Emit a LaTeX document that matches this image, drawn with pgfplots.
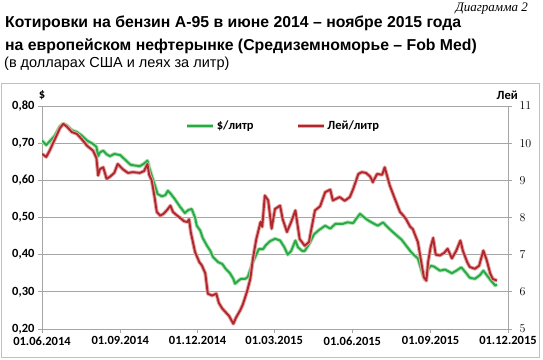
\documentclass[border=0pt]{standalone}
\usepackage{pgfplots}
\pgfplotsset{compat=1.18}
\usepackage{fontspec}
\setmainfont{Liberation Sans}
\newfontfamily\carlito{Carlito}
\newfontfamily\timesf{Liberation Serif}
\definecolor{gcore}{RGB}{40,170,70}
\definecolor{ghalo}{RGB}{170,225,175}
\definecolor{rcore}{RGB}{175,40,45}
\definecolor{rhalo}{RGB}{232,165,165}
\definecolor{gridc}{RGB}{165,165,165}
\tikzset{tfont/.style={font=\carlito\bfseries\fontsize{12.5}{14}\selectfont}}
\pgfplotsset{
  gstyle/.style={draw=gcore, line width=1.9pt, line join=round, no markers, preaction={draw=ghalo, line width=3.8pt}},
  rstyle/.style={draw=rcore, line width=1.9pt, line join=round, no markers, preaction={draw=rhalo, line width=3.8pt}},
}
\begin{document}
\begin{tikzpicture}[x=1pt,y=1pt]
\path[use as bounding box] (0pt,0pt) rectangle (543pt,359pt);
\draw[gridc!70, line width=0.8pt] (1.5pt,2pt) rectangle (539pt,276pt);
\node[anchor=east, inner sep=0pt, font=\timesf\itshape\fontsize{13}{15}\selectfont] at (528pt,350pt) {Диаграмма 2};
\node[anchor=west, inner sep=0pt, font=\bfseries\fontsize{15.8}{18}\selectfont] at (5pt,336pt) {Котировки на бензин А-95 в июне 2014 – ноябре 2015 года};
\node[anchor=west, inner sep=0pt, font=\bfseries\fontsize{15.8}{18}\selectfont] at (5pt,313pt) {на европейском нефтерынке (Средиземноморье – Fob Med)};
\node[anchor=west, inner sep=0pt, font=\fontsize{14.5}{16}\selectfont] at (4pt,295pt) {(в долларах США и леях за литр)};
\node[tfont] at (42pt,264pt) {\$};
\node[tfont, anchor=east, inner sep=0pt] at (518pt,264pt) {Лей};
\begin{axis}[
  at={(42pt,30pt)}, anchor=south west, scale only axis,
  width=466pt, height=223pt,
  xmin=0, xmax=548, ymin=0.2, ymax=0.8,
  axis x line*=bottom, axis y line*=left,
  axis line style={gridc, line width=0.8pt},
  tick align=outside, major tick length=4pt,
  tick style={gridc, line width=0.8pt},
  ymajorgrids, grid style={gridc, line width=0.8pt},
  xtick={0,92,183,273,365,457,548},
  xticklabels={01.06.2014,01.09.2014,01.12.2014,01.03.2015,01.06.2015,01.09.2015,01.12.2015},
  ytick={0.2,0.3,0.4,0.5,0.6,0.7,0.8},
  yticklabels={{0,20},{0,30},{0,40},{0,50},{0,60},{0,70},{0,80}},
  ticklabel style={tfont},
]
\addplot[gstyle] coordinates {
(0,0.707)(5,0.695)(9,0.705)(15,0.72)(21,0.745)(25,0.752)(29,0.748)(35,0.735)(41,0.73)(47,0.72)(53,0.707)(60,0.698)(64,0.69)(66,0.665)(68,0.675)(72,0.68)(76,0.67)(80,0.665)(85,0.671)(92,0.668)(98,0.655)(104,0.642)(109,0.64)(115,0.638)(120,0.645)(124,0.653)(126,0.635)(129,0.613)(133,0.585)(136,0.563)(141,0.557)(145,0.56)(148,0.572)(151,0.565)(156,0.55)(162,0.53)(168,0.512)(172,0.52)(176,0.523)(180,0.5)(182,0.478)(186,0.465)(189,0.445)(194,0.424)(198,0.41)(201,0.394)(207,0.38)(212,0.375)(216,0.362)(221,0.35)(225,0.335)(227,0.322)(231,0.33)(234,0.335)(239,0.335)(242,0.34)(245,0.36)(248,0.38)(252,0.40)(255,0.415)(260,0.415)(263,0.425)(268,0.436)(274,0.443)(280,0.438)(285,0.42)(289,0.40)(293,0.41)(298,0.438)(301,0.42)(306,0.41)(309,0.41)(315,0.432)(320,0.455)(325,0.465)(333,0.478)(339,0.47)(345,0.483)(354,0.483)(359,0.487)(366,0.485)(369,0.495)(374,0.51)(379,0.50)(383,0.493)(389,0.485)(395,0.478)(401,0.487)(406,0.475)(412,0.462)(417,0.452)(423,0.44)(428,0.425)(433,0.41)(437,0.40)(442,0.39)(446,0.36)(448,0.345)(450,0.333)(454,0.36)(457,0.37)(461,0.368)(468,0.357)(474,0.36)(482,0.35)(488,0.358)(493,0.366)(499,0.35)(503,0.338)(509,0.335)(515,0.345)(519,0.357)(523,0.345)(528,0.33)(533,0.317)(535,0.32)
};
\end{axis}
\begin{axis}[
  at={(42pt,30pt)}, anchor=south west, scale only axis,
  width=466pt, height=223pt,
  xmin=0, xmax=548, ymin=5, ymax=11,
  axis x line=none, axis y line*=right,
  axis line style={gridc, line width=0.8pt},
  tick align=outside, major tick length=4pt,
  tick style={gridc, line width=0.8pt},
  ytick={5,6,7,8,9,10,11},
  ticklabel style={tfont},
  yticklabel style={xshift=4pt},
  legend style={at={(0.30,0.91)}, anchor=west, draw=none, fill=none,
    font=\carlito\bfseries\fontsize{12.5}{14}\selectfont, legend columns=2,
    /tikz/every even column/.append style={column sep=40pt}},
  legend image code/.code={\draw[#1] (0pt,0pt) -- (26pt,0pt);},
]
\addlegendimage{gstyle}
\addlegendentry{\$/литр}
\addplot[rstyle] coordinates {
(0,9.71)(5,9.63)(9,9.8)(15,10.1)(21,10.4)(25,10.52)(29,10.45)(35,10.3)(41,10.25)(47,10.1)(53,9.93)(60,9.8)(64,9.6)(66,9.13)(68,9.3)(72,9.35)(76,9.04)(80,9.1)(85,9.2)(89,9.44)(95,9.3)(101,9.2)(107,9.22)(115,9.2)(120,9.25)(124,9.44)(126,9.15)(129,9.0)(132,8.6)(135,8.15)(139,8.05)(143,8.1)(147,8.2)(151,8.32)(154,8.15)(159,8.05)(162,8.0)(167,7.9)(171,7.88)(173,7.95)(175,7.6)(180,7.07)(185,6.8)(188,6.71)(192,6.5)(195,5.95)(200,5.9)(205,5.95)(208,5.7)(212,5.55)(216,5.45)(220,5.35)(225,5.14)(228,5.3)(233,5.5)(236,5.65)(241,6.0)(245,6.35)(248,6.89)(252,7.42)(257,7.88)(259,7.75)(262,8.59)(266,8.46)(270,7.7)(274,8.23)(280,8.32)(283,7.96)(288,7.61)(293,7.88)(298,8.19)(303,7.42)(309,7.24)(314,7.34)(316,7.6)(321,8.19)(327,8.3)(333,8.68)(339,8.75)(342,8.46)(350,8.55)(356,8.45)(362,8.55)(366,8.77)(372,9.17)(376,9.22)(381,9.2)(386,9.1)(389,8.95)(394,9.17)(400,9.15)(403,9.35)(409,8.86)(415,8.5)(421,8.15)(425,8.05)(428,7.96)(433,7.75)(436,7.69)(442,7.34)(446,6.8)(449,6.4)(452,6.3)(454,6.8)(457,7.2)(460,7.45)(463,7.0)(468,6.98)(473,7.05)(477,7.16)(482,6.9)(487,7.1)(492,7.38)(495,7.1)(500,6.8)(503,6.67)(509,6.62)(514,6.7)(519,7.11)(523,6.85)(527,6.5)(530,6.35)(535,6.3)
};
\addlegendentry{Лей/литр}
\end{axis}
\end{tikzpicture}
\end{document}
